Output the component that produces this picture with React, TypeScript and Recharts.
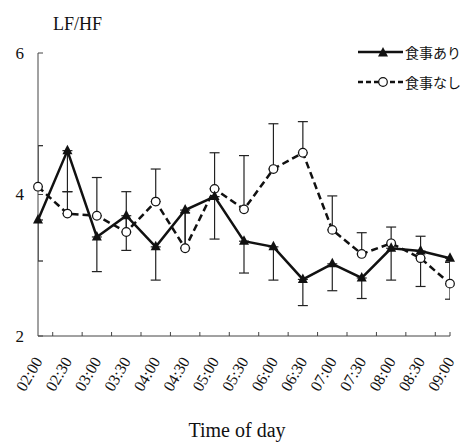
import { LineChart, Line, XAxis, YAxis, ErrorBar } from "recharts";

// 時刻ラベル
const times = [
  "02:00", "02:30", "03:00", "03:30", "04:00", "04:30", "05:00", "05:30",
  "06:00", "06:30", "07:00", "07:30", "08:00", "08:30", "09:00",
];

// 食事あり (平均と下側の誤差)
const withMeal = [3.64, 4.62, 3.4, 3.7, 3.26, 3.78, 3.97, 3.34, 3.26, 2.8, 3.02, 2.82, 3.24, 3.2, 3.1];
const withMealErr = [0.58, 0.58, 0.49, 0.49, 0.47, 0.54, 0.6, 0.45, 0.47, 0.37, 0.38, 0.29, 0.45, 0.5, 0.58];

// 食事なし (平均と上側の誤差)
const noMeal = [4.11, 3.73, 3.7, 3.47, 3.9, 3.24, 4.08, 3.79, 4.36, 4.59, 3.5, 3.16, 3.31, 3.1, 2.74];
const noMealErr = [0.58, 0.31, 0.54, 0.57, 0.46, 0.5, 0.51, 0.76, 0.64, 0.44, 0.48, 0.3, 0.23, 0.31, 0.3];

const yTicks = [2, 4, 6];
const seriesNames = ["食事あり", "食事なし"];
const yTitle = "LF/HF";
const xTitle = "Time of day";

const data = times.map((time, i) => ({
  idx: i,
  time,
  withMeal: withMeal[i],
  withMealErr: [withMealErr[i], 0],
  noMeal: noMeal[i],
  noMealErr: [0, noMealErr[i]],
}));

// ラベルは各時刻、目盛り線は時刻の間
const xTicks = times.flatMap((_, i) => (i < times.length - 1 ? [i, i + 0.5] : [i]));

const serif = "Liberation Serif";
const ink = "#111";
const axisColor = "#444";

const XTick = ({ x, y, payload }: any) => {
  const v = payload.value as number;
  const isLabel = Number.isInteger(v);
  const isMark = !isLabel || v === times.length - 1;
  const ax = x + 5;
  const ay = y + 25;
  return (
    <g>
      {isMark && <line x1={x} y1={y} x2={x} y2={y - 4} stroke={axisColor} strokeWidth={1} />}
      {isLabel && (
        <text
          x={ax}
          y={ay}
          textAnchor="end"
          transform={`rotate(-60, ${ax}, ${ay})`}
          style={{ fontFamily: serif, fontSize: 16 }}
          fill={ink}
        >
          {times[v]}
        </text>
      )}
    </g>
  );
};

const YTick = ({ x, y, payload }: any) => (
  <g>
    <line x1={x} y1={y} x2={x + 5} y2={y} stroke={axisColor} strokeWidth={1} />
    <text x={x - 14} y={y} dy="0.35em" textAnchor="end" style={{ fontFamily: serif, fontSize: 17 }} fill={ink}>
      {payload.value}
    </text>
  </g>
);

const TriangleDot = ({ cx, cy }: any) => (
  <path d={`M${cx},${cy - 6} L${cx - 5},${cy + 3.5} L${cx + 5},${cy + 3.5} Z`} fill={ink} />
);

const CircleDot = ({ cx, cy }: any) => (
  <circle cx={cx} cy={cy} r={4.3} fill="#fff" stroke={ink} strokeWidth={1.2} />
);

const XTitle = ({ viewBox }: any) => (
  <text
    x={viewBox.x + viewBox.width / 2 - 7}
    y={viewBox.y + viewBox.height - 9}
    textAnchor="middle"
    style={{ fontFamily: serif, fontSize: 20 }}
    fill={ink}
  >
    {xTitle}
  </text>
);

function LegendBox() {
  const row = (name: string, dashed: boolean) => (
    <div key={name} style={{ display: "flex", alignItems: "center", height: 30 }}>
      <svg width={50} height={14}>
        <line
          x1={3}
          y1={7}
          x2={48}
          y2={7}
          stroke={ink}
          strokeWidth={2.5}
          strokeDasharray={dashed ? "5 3" : undefined}
        />
        {dashed ? <CircleDot cx={28} cy={7} /> : <TriangleDot cx={28} cy={8} />}
      </svg>
      <span style={{ fontFamily: "'Noto Sans CJK JP', sans-serif", fontSize: 14, color: ink }}>{name}</span>
    </div>
  );
  return (
    <div style={{ position: "absolute", left: 355, top: 37 }}>
      {row(seriesNames[0], false)}
      {row(seriesNames[1], true)}
    </div>
  );
}

export default function App() {
  return (
    <div style={{ position: "absolute", left: 0, top: 0, width: 471, height: 446, background: "#fff" }}>
      <svg width={0} height={0} style={{ position: "absolute" }}>
        <defs>
          <clipPath id="plotClip" clipPathUnits="userSpaceOnUse">
            <rect x={38} y={0} width={412} height={446} />
          </clipPath>
        </defs>
      </svg>
      <LineChart width={471} height={446} data={data} margin={{ top: 53, right: 21, bottom: 0, left: 0 }}>
        <XAxis
          dataKey="idx"
          type="number"
          domain={[0, times.length - 1]}
          ticks={xTicks}
          interval={0}
          tick={<XTick />}
          tickLine={false}
          tickSize={0}
          tickMargin={0}
          axisLine={{ stroke: axisColor }}
          height={110}
          label={{ content: <XTitle /> }}
        />
        <YAxis
          domain={[2, 6]}
          ticks={yTicks}
          interval={0}
          width={38}
          tick={<YTick />}
          tickLine={false}
          tickSize={0}
          tickMargin={0}
          axisLine={{ stroke: axisColor }}
        />
        <Line
          dataKey="noMeal"
          stroke={ink}
          strokeWidth={2.5}
          strokeDasharray="7 4"
          dot={<CircleDot />}
          activeDot={false}
          isAnimationActive={false}
        >
          <ErrorBar dataKey="noMealErr" width={5} stroke="#222" strokeWidth={1.2} clipPath="url(#plotClip)" isAnimationActive={false} />
        </Line>
        <Line
          dataKey="withMeal"
          stroke={ink}
          strokeWidth={2.5}
          dot={<TriangleDot />}
          activeDot={false}
          isAnimationActive={false}
        >
          <ErrorBar dataKey="withMealErr" width={5} stroke="#222" strokeWidth={1.2} clipPath="url(#plotClip)" isAnimationActive={false} />
        </Line>
      </LineChart>
      <div
        style={{
          position: "absolute",
          left: 53,
          top: 14,
          fontFamily: serif,
          fontSize: 18,
          lineHeight: "20px",
          color: ink,
        }}
      >
        {yTitle}
      </div>
      <LegendBox />
    </div>
  );
}
